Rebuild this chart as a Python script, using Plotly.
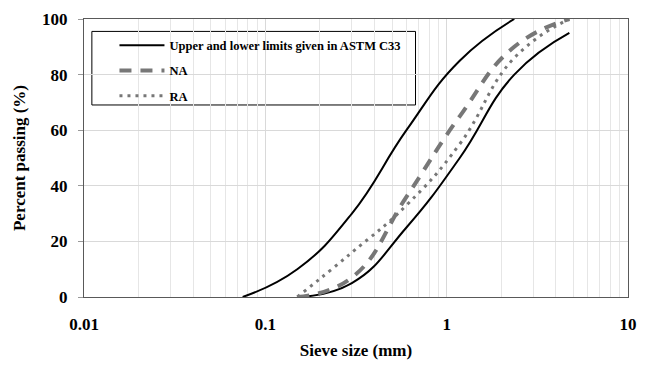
import plotly.graph_objects as go

# Sieve sizes (mm)
limit_upper_size = [0.075, 0.15, 0.3, 0.6, 1.18, 2.36]
limit_upper_pass = [0, 10, 30, 60, 85, 100]
limit_lower_size = [0.15, 0.3, 0.6, 1.18, 2.36, 4.75]
limit_lower_pass = [0, 5, 25, 50, 80, 95]

na_size = [0.15, 0.3, 0.6, 1.18, 2.36, 4.75]
na_pass = [0, 7, 36, 65, 90, 100]
ra_size = [0.15, 0.3, 0.6, 1.18, 2.36, 4.75]
ra_pass = [0, 16, 33, 55, 86, 100]

x_tickvals = [0.01, 0.1, 1, 10]
x_ticktext = ["0.01", "0.1", "1", "10"]
y_tickvals = [0, 20, 40, 60, 80, 100]

minor_vals = [m * d for d in (0.01, 0.1, 1) for m in range(2, 10)]

FONT = "Liberation Serif"
GRAY = "#777777"

fig = go.Figure()
fig.add_trace(go.Scatter(
    x=limit_upper_size, y=limit_upper_pass, mode="lines",
    line=dict(color="black", width=2, shape="spline", smoothing=1.3),
    name="Upper and lower limits given in ASTM C33", legendgroup="a"))
fig.add_trace(go.Scatter(
    x=limit_lower_size, y=limit_lower_pass, mode="lines",
    line=dict(color="black", width=2, shape="spline", smoothing=1.3),
    name="lower", legendgroup="a", showlegend=False))
fig.add_trace(go.Scatter(
    x=na_size, y=na_pass, mode="lines",
    line=dict(color=GRAY, width=4, dash="12px,9px", shape="spline", smoothing=1.3),
    name="NA", legendgroup="b"))
fig.add_trace(go.Scatter(
    x=ra_size, y=ra_pass, mode="lines",
    line=dict(color=GRAY, width=3, dash="3px,5px", shape="spline", smoothing=1.3),
    name="RA", legendgroup="c"))

fig.update_layout(
    width=646, height=365,
    margin=dict(l=84, r=9, t=19, b=55),
    paper_bgcolor="white", plot_bgcolor="white",
    font=dict(family=FONT, color="black"),
    showlegend=True,
    legend=dict(
        x=0.056, y=0.958, xanchor="left", yanchor="top",
        bgcolor="rgba(0,0,0,0)", borderwidth=0,
        font=dict(family=FONT, size=12.5, weight="bold", color="black"),
        itemwidth=45, tracegroupgap=6, traceorder="grouped"),
    shapes=[dict(type="rect", xref="paper", yref="paper",
                 x0=(92 - 84) / 553, x1=(421 - 84) / 553,
                 y0=(310 - 109) / 291, y1=(310 - 32) / 291,
                 line=dict(color="black", width=1), fillcolor="white",
                 layer="below")],
)

fig.update_xaxes(
    type="log", range=[-2, 1],
    tickvals=x_tickvals, ticktext=x_ticktext,
    showgrid=True, gridcolor="#d9d9d9", gridwidth=1,
    minor=dict(tickvals=minor_vals, showgrid=True, gridcolor="#e6e6e6", gridwidth=1, ticks=""),
    showline=True, linecolor="#595959", linewidth=1, mirror=True,
    ticks="", ticklabelstandoff=12,
    tickfont=dict(family=FONT, size=17, weight="bold", color="black"),
    title=dict(text="Sieve size (mm)", standoff=10,
               font=dict(family=FONT, size=17, weight="bold", color="black")),
    zeroline=False)

fig.update_yaxes(
    range=[0, 100], tickvals=y_tickvals,
    showgrid=True, gridcolor="#d9d9d9", gridwidth=1,
    showline=True, linecolor="#595959", linewidth=1, mirror=True,
    ticks="outside", ticklen=5, tickcolor="#999999", ticklabelstandoff=7,
    tickfont=dict(family=FONT, size=17, weight="bold", color="black"),
    title=dict(text="Percent passing (%)", standoff=12,
               font=dict(family=FONT, size=17, weight="bold", color="black")),
    zeroline=False)

fig.write_html("out.html")
